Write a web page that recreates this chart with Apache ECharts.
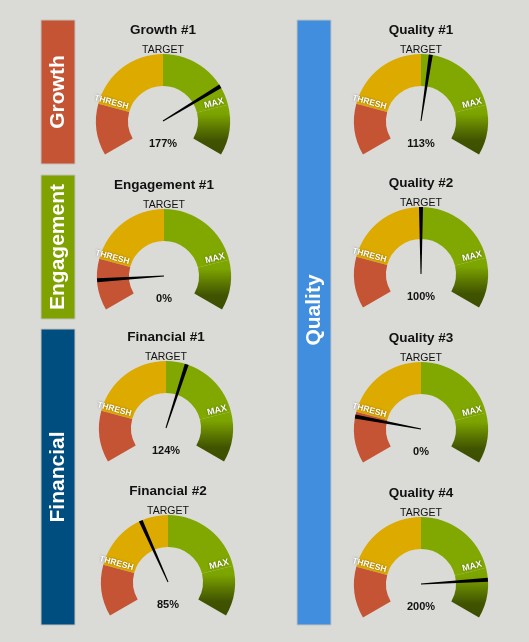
<!DOCTYPE html>
<html>
<head>
<meta charset="utf-8">
<script src="https://cdn.jsdelivr.net/npm/echarts@6/dist/echarts.min.js"></script>
<style>
  html, body { margin: 0; padding: 0; background: #dadad6; }
  #chart { width: 529px; height: 642px; }
</style>
</head>
<body>
<div id="chart"></div>
<script>
// ---- data ----
const gaugeTitles = ['Growth #1', 'Engagement #1', 'Financial #1', 'Financial #2',
                     'Quality #1', 'Quality #2', 'Quality #3', 'Quality #4'];
const needleValues = [149, 22, 115, 80, 107, 100, 34, 172];   // position on 0..200 scale (100 = target)
const valueLabels = ['177%', '0%', '124%', '85%', '113%', '100%', '0%', '200%'];
const bandLimits = [37.5, 100, 163.3, 200];                     // thresh, target, max, end
const bandNames = ['THRESH', 'TARGET', 'MAX'];
const groupNames = ['Growth', 'Engagement', 'Financial', 'Quality'];

// ---- layout / style ----
const SCALE_MIN = 0, SCALE_MAX = 200, START = 210, END = -30;
const R = 67, RING = 32;
const centers = [[163, 121], [164, 276], [166, 428], [168, 582],
                 [421, 121], [421, 274], [421, 429], [421, 584]];
const panels = [
  { x: 41, y: 20, w: 34, h: 144, color: '#c45434', ty: 92 },
  { x: 41, y: 175, w: 34, h: 144, color: '#80a200', ty: 247 },
  { x: 41, y: 329, w: 34, h: 296, color: '#004e80', ty: 477 },
  { x: 297, y: 20, w: 34, h: 605, color: '#428ede', ty: 310 }
];
const FONT = '"Liberation Sans", Arial, sans-serif';
const RED = '#c45434', YELLOW = '#ddaa00', GREEN = '#80a800';

const chart = echarts.init(document.getElementById('chart'));

function angleOf(v) {
  return START - (v - SCALE_MIN) / (SCALE_MAX - SCALE_MIN) * (START - END);
}
function frac(v) { return (v - SCALE_MIN) / (SCALE_MAX - SCALE_MIN); }

const series = gaugeTitles.map((t, i) => ({
  type: 'gauge',
  z: 2,
  center: centers[i],
  radius: R,
  startAngle: START,
  endAngle: END,
  min: SCALE_MIN,
  max: SCALE_MAX,
  splitNumber: 4,
  axisLine: {
    lineStyle: {
      width: RING,
      color: [
        [frac(bandLimits[0]), RED],
        [frac(bandLimits[1]), YELLOW],
        [frac(bandLimits[2]), GREEN],
        [frac(bandLimits[3]), new echarts.graphic.LinearGradient(0, 0, 0, 1, [
          { offset: 0, color: '#80a800' },
          { offset: 0.18, color: '#7ca400' },
          { offset: 0.45, color: '#5e7a00' },
          { offset: 0.72, color: '#405300' },
          { offset: 1, color: '#3d4f00' }
        ])]
      ]
    }
  },
  splitLine: { show: false },
  axisTick: { show: false },
  axisLabel: { show: false },
  anchor: { show: false },
  pointer: {
    icon: 'path://M0,0 L4,0 L2.5,100 L1.5,100 Z',
    length: '100%',
    width: 4,
    itemStyle: { color: '#000' }
  },
  title: {
    offsetCenter: [0, -71],
    fontSize: 10.5,
    color: '#111',
    fontFamily: FONT
  },
  detail: {
    offsetCenter: [0, 23],
    fontSize: 11,
    fontWeight: 'bold',
    color: '#111',
    fontFamily: FONT,
    formatter: () => valueLabels[i]
  },
  data: [{ value: needleValues[i], name: bandNames[1] }]
}));

const graphics = [];
panels.forEach((p, k) => {
  graphics.push({
    type: 'rect', z: 1,
    shape: { x: p.x, y: p.y, width: p.w, height: p.h },
    style: { fill: p.color, stroke: '#c2c2be', lineWidth: 1 },
    silent: true
  });
  graphics.push({
    type: 'text', z: 5,
    x: p.x + p.w / 2,
    y: p.ty,
    rotation: Math.PI / 2,
    style: {
      text: groupNames[k],
      fill: '#fff',
      font: 'bold 21px ' + FONT,
      align: 'center',
      verticalAlign: 'middle'
    },
    silent: true
  });
});

gaugeTitles.forEach((t, i) => {
  const [cx, cy] = centers[i];
  graphics.push({
    type: 'text', z: 5, x: cx, y: cy - 91,
    style: { text: t, fill: '#111', font: 'bold 13.5px ' + FONT, align: 'center', verticalAlign: 'middle' },
    silent: true
  });
  // THRESH label along the red/yellow boundary
  const aT = angleOf(bandLimits[0]);
  const aTl = (aT - 5) * Math.PI / 180;
  graphics.push({
    type: 'text', z: 5, x: cx + 55 * Math.cos(aTl), y: cy - 55 * Math.sin(aTl),
    rotation: (aT - 180) * Math.PI / 180,
    style: { text: bandNames[0], fill: '#fff', font: 'bold 8.5px ' + FONT, align: 'center', verticalAlign: 'middle',
             textShadowColor: 'rgba(0,0,0,0.45)', textShadowBlur: 2 },
    silent: true
  });
  // MAX label along the green boundary
  const aM = angleOf(bandLimits[2]);
  const aMl = (aM + 5) * Math.PI / 180;
  graphics.push({
    type: 'text', z: 5, x: cx + 54 * Math.cos(aMl), y: cy - 54 * Math.sin(aMl),
    rotation: aM * Math.PI / 180,
    style: { text: bandNames[2], fill: '#fff', font: 'bold 9px ' + FONT, align: 'center', verticalAlign: 'middle',
             textShadowColor: 'rgba(0,0,0,0.45)', textShadowBlur: 2 },
    silent: true
  });
});

chart.setOption({
  backgroundColor: '#dadad6',
  animation: false,
  series: series,
  graphic: { elements: graphics }
});
</script>
</body>
</html>
